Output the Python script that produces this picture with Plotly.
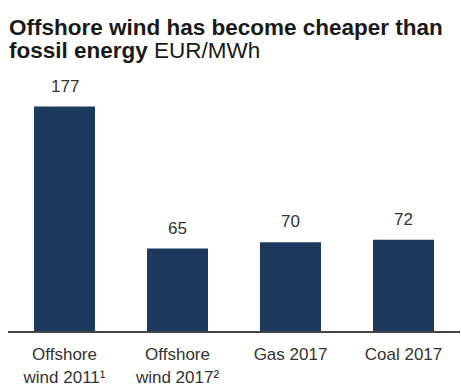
import plotly.graph_objects as go

categories = ["Offshore<br>wind 2011¹", "Offshore<br>wind 2017²", "Gas 2017", "Coal 2017"]
values = [177, 65, 70, 72]
title_line1 = "<b>Offshore wind has become cheaper than</b>"
title_line2 = "<b>fossil energy</b> EUR/MWh"

BAR = "#1b3a5d"
FONT = "Liberation Sans, Arial, sans-serif"

fig = go.Figure()
fig.add_trace(go.Bar(
    x=categories, y=values, marker=dict(color=BAR, line=dict(width=0)),
    hoverinfo="skip",
))

annotations = []
for c, v in zip(categories, values):
    annotations.append(dict(
        x=c, y=v, xref="x", yref="y", text=str(v), showarrow=False,
        yanchor="bottom", yshift=9, font=dict(size=17, color="#333333", family=FONT),
    ))

annotations.append(dict(
    x=0, y=1, xref="paper", yref="paper", xanchor="left", yanchor="middle",
    text=title_line1, showarrow=False, xshift=-1, yshift=58,
    font=dict(size=22.5, color="#1a1a1a", family=FONT),
))
annotations.append(dict(
    x=0, y=1, xref="paper", yref="paper", xanchor="left", yanchor="middle",
    text=title_line2, showarrow=False, xshift=-1, yshift=35,
    font=dict(size=22.5, color="#1a1a1a", family=FONT),
))

fig.update_layout(
    width=461, height=385,
    margin=dict(l=8, r=1, t=85, b=54, pad=0),
    paper_bgcolor="white", plot_bgcolor="white",
    bargap=0.46,
    showlegend=False,
    annotations=annotations,
    font=dict(family=FONT, color="#333333"),
    xaxis=dict(
        showline=True, linecolor="#444444", linewidth=2,
        showgrid=False, ticks="", tickfont=dict(size=17, color="#333333"),
        ticklabelstandoff=7, automargin=False, fixedrange=True,
    ),
    yaxis=dict(
        range=[0, 194], visible=False, showgrid=False, zeroline=False,
        automargin=False, fixedrange=True,
    ),
)

fig.write_html("out.html", config={"displayModeBar": False})
